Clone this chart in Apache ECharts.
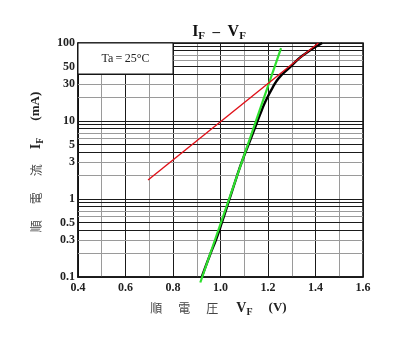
<!DOCTYPE html>
<html><head><meta charset="utf-8">
<script src="https://cdn.jsdelivr.net/npm/echarts@6/dist/echarts.min.js"></script>
<style>html,body{margin:0;padding:0;background:#fff}#c{width:399px;height:340px}</style>
</head><body><div id="c"></div>
<script>
// ---- data ----
const vfBlack = [0.921, 0.958, 0.981, 1.006, 1.038, 1.07, 1.09, 1.118, 1.144, 1.166, 1.19, 1.22, 1.247, 1.29, 1.343, 1.428];
const ifBlack = [0.1, 0.2, 0.3, 0.5, 1, 2, 3, 5, 8, 12, 18, 27, 36, 48, 68, 100];
const vfGreen = [0.915, 1.255];
const ifGreen = [0.085, 86];
const vfRed = [0.695, 1.412];
const ifRed = [1.75, 100];
const yTickLabels = [0.1, 0.3, 0.5, 1, 3, 5, 10, 30, 50, 100];
const yGridValues = [0.1,0.2,0.3,0.4,0.5,0.6,0.7,0.8,0.9,1,2,3,4,5,6,7,8,9,10,20,30,40,50,60,70,80,90,100];
const xMin = 0.4, xMax = 1.6, xStep = 0.1;
const yMin = 0.1, yMax = 100;
const boxX = [0.4, 0.8];
const boxY = [40, 100];
const boxText = 'Ta\u2009=\u200925°C';

const serif = 'Liberation Serif';
const cjk = 'Noto Sans CJK JP';
const darkMant = [1, 4, 5, 8, 9];

function mant(v){ const e = Math.floor(Math.log10(v) + 1e-9); return Math.round(v / Math.pow(10, e)); }

const chart = echarts.init(document.getElementById('c'), null, {renderer: 'canvas'});
chart.setOption({
  animation: false,
  backgroundColor: '#fff',
  title: {
    text: '{i|I}{s|F}{d|  –  }{i|V}{s|F}',
    left: 214, top: 17, textAlign: 'center',
    textStyle: {
      rich: {
        i: {fontFamily: serif, fontSize: 16, fontWeight: 'bold', color: '#111', lineHeight: 20},
        d: {fontFamily: serif, fontSize: 15, fontWeight: 'bold', color: '#111', lineHeight: 20},
        s: {fontFamily: serif, fontSize: 11, fontWeight: 'bold', color: '#111', lineHeight: 11, verticalAlign: 'bottom'}
      }
    }
  },
  grid: {left: 78, right: 36, top: 43, bottom: 63, show: true, borderColor: '#111', borderWidth: 1.5, backgroundColor: 'transparent'},
  xAxis: {
    type: 'value', min: xMin, max: xMax, interval: xStep,
    axisLine: {show: true, lineStyle: {color: '#111', width: 1.5}},
    axisTick: {show: false},
    axisLabel: {
      margin: 5, fontFamily: serif, fontSize: 12, fontWeight: 'bold', color: '#222',
      formatter: v => (Math.round(v * 10) % 2 === 0 ? v.toFixed(1) : '')
    },
    splitLine: {show: true, lineStyle: {color: ['#1a1a1a', '#9a9a9a'], width: 1}},
    name: '{c|順}{c|電}{c|圧}{v|V}{s|F}{u|(V)}',
    nameLocation: 'middle', nameGap: 22,
    nameTextStyle: {
      rich: {
        c: {fontFamily: cjk, fontSize: 12, color: '#444', padding: [0, 8, 0, 8], lineHeight: 18},
        v: {fontFamily: serif, fontSize: 14, fontWeight: 'bold', color: '#222', padding: [0, 0, 0, 10], lineHeight: 18},
        s: {fontFamily: serif, fontSize: 10, fontWeight: 'bold', color: '#222', lineHeight: 11, verticalAlign: 'bottom'},
        u: {fontFamily: serif, fontSize: 13, fontWeight: 'bold', color: '#222', padding: [0, 12, 0, 16], lineHeight: 18}
      }
    }
  },
  yAxis: {
    type: 'log', logBase: 10, min: yMin, max: yMax,
    axisLine: {show: true, lineStyle: {color: '#111', width: 1.5}},
    axisTick: {show: false},
    axisLabel: {show: false},
    splitLine: {show: false},
    name: '{c|順}{c|電}{c|流}{i|I}{s|F}{u|(mA)}',
    nameLocation: 'middle', nameGap: 33,
    nameTextStyle: {
      rich: {
        c: {fontFamily: cjk, fontSize: 12, color: '#444', padding: [0, 8, 0, 8], lineHeight: 18},
        i: {fontFamily: serif, fontSize: 14, fontWeight: 'bold', color: '#222', padding: [0, 0, 0, 7], lineHeight: 18},
        s: {fontFamily: serif, fontSize: 10, fontWeight: 'bold', color: '#222', lineHeight: 11, verticalAlign: 'bottom'},
        u: {fontFamily: serif, fontSize: 13, fontWeight: 'bold', color: '#222', padding: [0, 12, 0, 17], lineHeight: 18}
      }
    }
  },
  series: [
    {
      type: 'line', data: [], silent: true, z: 1,
      markLine: {
        silent: true, symbol: ['none', 'none'], z: 2, animation: false,
        data: yGridValues.map(v => ({
          yAxis: v,
          lineStyle: {type: 'solid', width: 1, color: darkMant.includes(mant(v)) ? '#1a1a1a' : '#9a9a9a'},
          label: {
            show: yTickLabels.includes(v), position: 'start', distance: 3,
            formatter: String(v), fontFamily: serif, fontSize: 12, fontWeight: 'bold', color: '#222'
          }
        }))
      }
    },
    {
      type: 'line', data: [], silent: true, z: 3,
      markArea: {
        silent: true, z: 6, animation: false,
        itemStyle: {color: '#fff', borderColor: '#111', borderWidth: 1},
        label: {show: true, position: 'inside', formatter: boxText, fontFamily: serif, fontSize: 12, color: '#222'},
        data: [[{xAxis: boxX[0], yAxis: boxY[0]}, {xAxis: boxX[1], yAxis: boxY[1]}]]
      }
    },
    {
      type: 'line', z: 10, showSymbol: false, smooth: 0.5, clip: false,
      lineStyle: {color: '#000', width: 2.4},
      data: vfBlack.map((v, i) => [v, ifBlack[i]])
    },
    {
      type: 'line', z: 11, showSymbol: false, clip: false,
      lineStyle: {color: '#2ee02e', width: 2.2},
      data: vfGreen.map((v, i) => [v, ifGreen[i]])
    },
    {
      type: 'line', z: 12, showSymbol: false, clip: false,
      lineStyle: {color: '#e01018', width: 1.4},
      data: vfRed.map((v, i) => [v, ifRed[i]])
    }
  ]
});
</script></body></html>
